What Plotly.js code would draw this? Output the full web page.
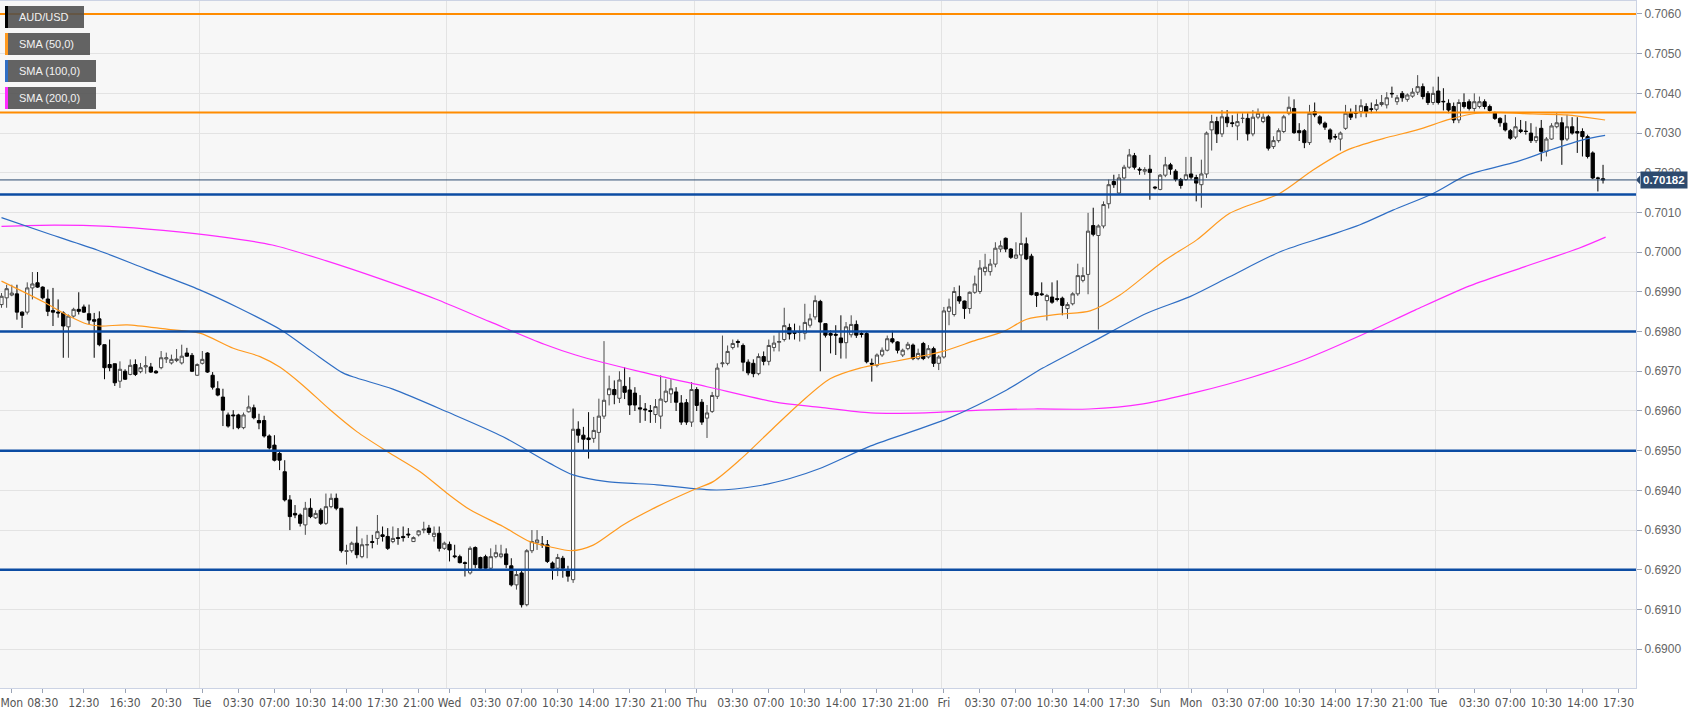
<!DOCTYPE html>
<html><head><meta charset="utf-8">
<script src="https://cdn.plot.ly/plotly-3.0.1.min.js"></script>
<style>html,body{margin:0;padding:0;background:#fff;}#chart{width:1707px;height:712px;}</style>
</head><body><div id="chart"></div>
<script>
// ---- data (30-min candles, AUD/USD) ----
const opens = [0.69868,0.69885,0.69892,0.69895,0.69849,0.69849,0.69910,0.69923,0.69912,0.69882,0.69853,0.69849,0.69847,0.69812,0.69839,0.69856,0.69862,0.69845,0.69830,0.69832,0.69767,0.69717,0.69719,0.69675,0.69700,0.69692,0.69717,0.69699,0.69711,0.69711,0.69700,0.69709,0.69731,0.69721,0.69727,0.69721,0.69746,0.69740,0.69690,0.69720,0.69746,0.69690,0.69656,0.69635,0.69590,0.69590,0.69590,0.69558,0.69598,0.69608,0.69576,0.69576,0.69537,0.69514,0.69493,0.69447,0.69376,0.69342,0.69338,0.69313,0.69355,0.69331,0.69350,0.69317,0.69359,0.69380,0.69355,0.69246,0.69248,0.69267,0.69233,0.69263,0.69271,0.69279,0.69288,0.69284,0.69271,0.69281,0.69284,0.69290,0.69271,0.69288,0.69300,0.69305,0.69284,0.69292,0.69254,0.69264,0.69235,0.69233,0.69218,0.69192,0.69256,0.69231,0.69233,0.69204,0.69233,0.69233,0.69240,0.69210,0.69162,0.69192,0.69112,0.69248,0.69268,0.69265,0.69263,0.69217,0.69204,0.69229,0.69200,0.69175,0.69554,0.69539,0.69532,0.69531,0.69546,0.69587,0.69641,0.69654,0.69632,0.69662,0.69653,0.69645,0.69608,0.69605,0.69601,0.69591,0.69587,0.69624,0.69643,0.69648,0.69620,0.69621,0.69572,0.69654,0.69622,0.69582,0.69599,0.69637,0.69719,0.69720,0.69760,0.69775,0.69765,0.69723,0.69720,0.69694,0.69737,0.69725,0.69760,0.69773,0.69780,0.69810,0.69798,0.69798,0.69796,0.69816,0.69837,0.69876,0.69820,0.69795,0.69793,0.69784,0.69772,0.69792,0.69818,0.69795,0.69795,0.69720,0.69715,0.69741,0.69753,0.69782,0.69774,0.69741,0.69757,0.69766,0.69732,0.69770,0.69736,0.69757,0.69720,0.69736,0.69851,0.69843,0.69888,0.69877,0.69858,0.69899,0.69901,0.69951,0.69951,0.69970,0.70008,0.70035,0.70008,0.69985,0.69993,0.70021,0.69990,0.69898,0.69895,0.69878,0.69887,0.69883,0.69884,0.69858,0.69870,0.69895,0.69929,0.69944,0.70067,0.70042,0.70066,0.70122,0.70178,0.70149,0.70187,0.70214,0.70243,0.70209,0.70204,0.70209,0.70164,0.70158,0.70194,0.70220,0.70204,0.70183,0.70183,0.70197,0.70188,0.70170,0.70197,0.70308,0.70329,0.70298,0.70340,0.70326,0.70318,0.70337,0.70337,0.70298,0.70340,0.70329,0.70341,0.70266,0.70281,0.70304,0.70350,0.70362,0.70306,0.70306,0.70276,0.70354,0.70341,0.70325,0.70308,0.70291,0.70285,0.70312,0.70350,0.70352,0.70354,0.70367,0.70361,0.70360,0.70372,0.70371,0.70400,0.70379,0.70400,0.70385,0.70393,0.70403,0.70417,0.70400,0.70377,0.70406,0.70380,0.70375,0.70367,0.70333,0.70377,0.70379,0.70362,0.70367,0.70379,0.70367,0.70350,0.70337,0.70325,0.70306,0.70290,0.70308,0.70305,0.70300,0.70281,0.70312,0.70254,0.70285,0.70316,0.70326,0.70285,0.70316,0.70304,0.70304,0.70291,0.70250,0.70187,0.70185];
const highs = [0.69897,0.69918,0.69918,0.69918,0.69851,0.69924,0.69950,0.69950,0.69914,0.69906,0.69910,0.69881,0.69851,0.69843,0.69860,0.69899,0.69868,0.69868,0.69847,0.69851,0.69767,0.69780,0.69719,0.69725,0.69705,0.69730,0.69730,0.69721,0.69738,0.69721,0.69703,0.69751,0.69747,0.69742,0.69756,0.69767,0.69759,0.69746,0.69720,0.69751,0.69748,0.69698,0.69675,0.69656,0.69596,0.69602,0.69593,0.69596,0.69639,0.69616,0.69593,0.69588,0.69541,0.69539,0.69497,0.69476,0.69388,0.69363,0.69342,0.69371,0.69380,0.69350,0.69355,0.69392,0.69392,0.69392,0.69355,0.69263,0.69271,0.69309,0.69279,0.69288,0.69288,0.69338,0.69309,0.69305,0.69309,0.69305,0.69309,0.69305,0.69284,0.69300,0.69321,0.69313,0.69309,0.69309,0.69271,0.69271,0.69263,0.69238,0.69221,0.69259,0.69259,0.69233,0.69238,0.69254,0.69263,0.69263,0.69254,0.69229,0.69200,0.69198,0.69252,0.69300,0.69300,0.69285,0.69275,0.69221,0.69240,0.69235,0.69210,0.69606,0.69574,0.69560,0.69597,0.69585,0.69631,0.69776,0.69689,0.69677,0.69700,0.69710,0.69685,0.69660,0.69640,0.69620,0.69615,0.69630,0.69690,0.69680,0.69680,0.69660,0.69640,0.69630,0.69673,0.69660,0.69630,0.69615,0.69648,0.69720,0.69790,0.69765,0.69780,0.69780,0.69770,0.69730,0.69730,0.69745,0.69750,0.69780,0.69790,0.69800,0.69860,0.69820,0.69820,0.69815,0.69870,0.69845,0.69891,0.69880,0.69820,0.69803,0.69816,0.69841,0.69824,0.69841,0.69828,0.69802,0.69800,0.69732,0.69745,0.69760,0.69790,0.69802,0.69776,0.69757,0.69774,0.69770,0.69757,0.69774,0.69766,0.69762,0.69741,0.69862,0.69883,0.69912,0.69916,0.69878,0.69901,0.69941,0.69980,0.69996,0.69983,0.70025,0.70029,0.70037,0.70010,0.70025,0.70100,0.70037,0.69996,0.69898,0.69924,0.69895,0.69924,0.69929,0.69888,0.69874,0.69899,0.69971,0.69962,0.70099,0.70112,0.70070,0.70128,0.70183,0.70195,0.70197,0.70220,0.70260,0.70250,0.70214,0.70214,0.70245,0.70166,0.70197,0.70240,0.70225,0.70209,0.70187,0.70240,0.70240,0.70195,0.70233,0.70304,0.70346,0.70341,0.70358,0.70358,0.70345,0.70350,0.70350,0.70350,0.70358,0.70362,0.70350,0.70346,0.70292,0.70312,0.70346,0.70392,0.70385,0.70325,0.70310,0.70371,0.70377,0.70345,0.70329,0.70312,0.70298,0.70304,0.70371,0.70362,0.70371,0.70385,0.70375,0.70377,0.70385,0.70396,0.70403,0.70417,0.70396,0.70406,0.70400,0.70413,0.70446,0.70425,0.70406,0.70417,0.70442,0.70413,0.70385,0.70377,0.70385,0.70400,0.70385,0.70400,0.70392,0.70385,0.70372,0.70354,0.70340,0.70346,0.70310,0.70340,0.70333,0.70330,0.70325,0.70316,0.70333,0.70290,0.70325,0.70350,0.70340,0.70346,0.70340,0.70340,0.70312,0.70296,0.70254,0.70190,0.70220];
const lows = [0.69860,0.69860,0.69889,0.69830,0.69809,0.69843,0.69881,0.69910,0.69881,0.69839,0.69814,0.69835,0.69734,0.69734,0.69835,0.69843,0.69847,0.69818,0.69734,0.69763,0.69680,0.69700,0.69663,0.69658,0.69678,0.69690,0.69688,0.69695,0.69694,0.69696,0.69694,0.69705,0.69721,0.69717,0.69723,0.69717,0.69736,0.69698,0.69688,0.69717,0.69696,0.69654,0.69637,0.69562,0.69558,0.69554,0.69554,0.69554,0.69596,0.69579,0.69554,0.69533,0.69503,0.69473,0.69451,0.69372,0.69300,0.69330,0.69309,0.69288,0.69330,0.69328,0.69313,0.69313,0.69355,0.69350,0.69243,0.69213,0.69243,0.69229,0.69229,0.69229,0.69254,0.69263,0.69271,0.69250,0.69267,0.69263,0.69271,0.69280,0.69270,0.69284,0.69292,0.69288,0.69271,0.69246,0.69250,0.69221,0.69229,0.69216,0.69183,0.69188,0.69204,0.69200,0.69200,0.69200,0.69229,0.69229,0.69204,0.69158,0.69150,0.69105,0.69108,0.69242,0.69250,0.69255,0.69217,0.69175,0.69184,0.69180,0.69170,0.69167,0.69520,0.69500,0.69480,0.69520,0.69501,0.69580,0.69614,0.69617,0.69620,0.69630,0.69590,0.69600,0.69570,0.69575,0.69570,0.69570,0.69555,0.69620,0.69620,0.69600,0.69565,0.69565,0.69560,0.69600,0.69565,0.69532,0.69595,0.69630,0.69710,0.69715,0.69755,0.69760,0.69700,0.69690,0.69685,0.69690,0.69715,0.69715,0.69750,0.69750,0.69775,0.69780,0.69780,0.69775,0.69780,0.69810,0.69830,0.69700,0.69785,0.69745,0.69741,0.69732,0.69732,0.69785,0.69784,0.69785,0.69720,0.69674,0.69710,0.69736,0.69750,0.69770,0.69745,0.69736,0.69753,0.69728,0.69728,0.69728,0.69732,0.69711,0.69703,0.69732,0.69816,0.69838,0.69870,0.69832,0.69845,0.69895,0.69895,0.69941,0.69941,0.69962,0.70000,0.70000,0.69983,0.69983,0.69803,0.69980,0.69891,0.69862,0.69890,0.69828,0.69870,0.69876,0.69841,0.69832,0.69866,0.69890,0.69924,0.69894,0.70040,0.69805,0.70060,0.70110,0.70162,0.70145,0.70183,0.70210,0.70208,0.70195,0.70195,0.70132,0.70158,0.70156,0.70189,0.70195,0.70178,0.70160,0.70180,0.70183,0.70128,0.70112,0.70187,0.70256,0.70275,0.70290,0.70315,0.70315,0.70282,0.70325,0.70281,0.70292,0.70335,0.70325,0.70256,0.70260,0.70276,0.70300,0.70345,0.70298,0.70280,0.70262,0.70270,0.70340,0.70320,0.70308,0.70276,0.70283,0.70256,0.70308,0.70333,0.70337,0.70340,0.70340,0.70350,0.70354,0.70367,0.70362,0.70389,0.70371,0.70379,0.70379,0.70389,0.70396,0.70385,0.70371,0.70371,0.70372,0.70357,0.70350,0.70325,0.70325,0.70362,0.70357,0.70354,0.70362,0.70360,0.70354,0.70333,0.70316,0.70304,0.70283,0.70285,0.70300,0.70296,0.70275,0.70275,0.70229,0.70241,0.70283,0.70312,0.70220,0.70280,0.70296,0.70250,0.70241,0.70236,0.70184,0.70153,0.70173];
const closes = [0.69889,0.69908,0.69897,0.69849,0.69841,0.69910,0.69920,0.69912,0.69885,0.69851,0.69849,0.69847,0.69814,0.69839,0.69856,0.69851,0.69849,0.69829,0.69826,0.69767,0.69709,0.69709,0.69671,0.69705,0.69680,0.69715,0.69692,0.69709,0.69714,0.69698,0.69696,0.69734,0.69734,0.69730,0.69731,0.69738,0.69738,0.69700,0.69717,0.69730,0.69698,0.69660,0.69640,0.69602,0.69562,0.69588,0.69558,0.69590,0.69610,0.69583,0.69570,0.69537,0.69507,0.69476,0.69476,0.69376,0.69334,0.69338,0.69317,0.69355,0.69334,0.69342,0.69317,0.69359,0.69380,0.69355,0.69248,0.69248,0.69267,0.69238,0.69263,0.69263,0.69269,0.69296,0.69284,0.69254,0.69279,0.69279,0.69281,0.69288,0.69281,0.69298,0.69302,0.69294,0.69292,0.69254,0.69267,0.69250,0.69233,0.69218,0.69216,0.69254,0.69213,0.69204,0.69204,0.69233,0.69243,0.69240,0.69213,0.69162,0.69188,0.69112,0.69248,0.69271,0.69275,0.69263,0.69221,0.69204,0.69231,0.69204,0.69184,0.69554,0.69539,0.69529,0.69528,0.69551,0.69587,0.69627,0.69656,0.69641,0.69678,0.69647,0.69615,0.69615,0.69605,0.69603,0.69599,0.69611,0.69630,0.69650,0.69656,0.69622,0.69572,0.69572,0.69654,0.69614,0.69572,0.69595,0.69639,0.69708,0.69721,0.69750,0.69770,0.69773,0.69723,0.69696,0.69694,0.69737,0.69725,0.69765,0.69771,0.69775,0.69815,0.69794,0.69796,0.69798,0.69823,0.69832,0.69878,0.69824,0.69791,0.69791,0.69791,0.69772,0.69812,0.69818,0.69791,0.69793,0.69724,0.69718,0.69741,0.69753,0.69782,0.69774,0.69753,0.69753,0.69768,0.69732,0.69745,0.69732,0.69757,0.69720,0.69736,0.69852,0.69862,0.69901,0.69877,0.69858,0.69899,0.69920,0.69960,0.69962,0.69970,0.70010,0.70016,0.70008,0.69987,0.69993,0.70022,0.69983,0.69893,0.69891,0.69893,0.69891,0.69874,0.69881,0.69866,0.69868,0.69895,0.69941,0.69941,0.70053,0.70045,0.70066,0.70120,0.70170,0.70170,0.70187,0.70214,0.70245,0.70214,0.70207,0.70208,0.70201,0.70162,0.70194,0.70220,0.70209,0.70183,0.70168,0.70195,0.70189,0.70174,0.70197,0.70300,0.70329,0.70298,0.70341,0.70326,0.70324,0.70329,0.70337,0.70298,0.70340,0.70350,0.70340,0.70262,0.70281,0.70306,0.70341,0.70365,0.70301,0.70301,0.70276,0.70350,0.70346,0.70325,0.70315,0.70285,0.70290,0.70300,0.70350,0.70340,0.70350,0.70369,0.70354,0.70360,0.70372,0.70377,0.70389,0.70399,0.70389,0.70389,0.70396,0.70403,0.70417,0.70392,0.70377,0.70400,0.70377,0.70379,0.70358,0.70333,0.70377,0.70367,0.70362,0.70379,0.70379,0.70367,0.70357,0.70337,0.70326,0.70308,0.70287,0.70316,0.70304,0.70304,0.70281,0.70291,0.70254,0.70285,0.70318,0.70326,0.70283,0.70316,0.70300,0.70300,0.70291,0.70241,0.70187,0.70186,0.70182];

// moving averages at candle positions
const sma50Idx = [0,8.1,12.7,16.6,19.1,24.4,32.1,38.5,45,50.2,54.1,58.5,63.8,69,74.9,81.3,86.5,91,97.4,102.6,106.5,110.7,114.9,120.7,127.3,134.3,138.2,143.4,149.8,155,160.9,166.7,173.1,179.7,182.8,189.4,194.5,199.1,205.5,211.4,217.2,225.5,232.1,238.5,248.2,254.7,261.3,268.3,274.9,281.3,286.5,291,297.4,304,307.1,311.4];
const sma50Val = [0.69927,0.69875,0.69842,0.69819,0.69814,0.69817,0.69806,0.69796,0.69758,0.69737,0.69710,0.69665,0.69603,0.69548,0.69498,0.69447,0.69393,0.69351,0.69309,0.69271,0.69258,0.69248,0.69262,0.69313,0.69359,0.69401,0.69422,0.69477,0.69556,0.69619,0.69681,0.69708,0.69724,0.69741,0.69750,0.69779,0.69800,0.69831,0.69844,0.69852,0.69892,0.69976,0.70031,0.70098,0.70148,0.70207,0.70257,0.70286,0.70308,0.70335,0.70350,0.70352,0.70348,0.70346,0.70341,0.70333];
const sma100Idx = [0,9,18.7,28,38.5,46,54.3,60,66.3,69,76,86.5,97.4,106.5,111,117.6,127.3,138.9,146.7,153.1,158.9,168.8,183.6,195.2,202.2,211.4,222.4,230.8,238.5,248.3,258,263.8,270.2,278,284.6,294.3,300.7,307.1,311.4];
const sma100Val = [0.70087,0.70047,0.70005,0.69958,0.69905,0.69860,0.69804,0.69752,0.69696,0.69683,0.69655,0.69598,0.69535,0.69468,0.69439,0.69422,0.69414,0.69401,0.69411,0.69430,0.69455,0.69512,0.69580,0.69653,0.69708,0.69771,0.69846,0.69888,0.69938,0.70001,0.70043,0.70069,0.70106,0.70148,0.70194,0.70228,0.70257,0.70283,0.70294];
const sma200Idx = [0,10.3,20.9,31.4,42,52.6,63.1,73.7,84.3,94.8,105.4,111.5,124,137,150,159,168.8,179.4,190,200.5,211.2,221.7,232.3,242.8,253.3,263.9,274.5,285.1,295.7,306.3,311.5];
const sma200Val = [0.70065,0.70068,0.70065,0.70055,0.70040,0.70018,0.69978,0.69932,0.69882,0.69825,0.69768,0.69741,0.69699,0.69661,0.69623,0.69609,0.69595,0.69595,0.69602,0.69605,0.69605,0.69618,0.69648,0.69685,0.69731,0.69790,0.69854,0.69915,0.69963,0.70010,0.70038];

// axis labels (placed at candle positions)
const tickIdx = [2,8,16,24,32,39,46,53,60,67,74,81,87,94,101,108,115,122,129,135,142,149,156,163,170,177,183,190,197,204,211,218,225,231,238,245,252,259,266,273,279,286,293,300,307,314];
const tickLabels = ['Mon','08:30','12:30','16:30','20:30','Tue','03:30','07:00','10:30','14:00','17:30','21:00','Wed','03:30','07:00','10:30','14:00','17:30','21:00','Thu','03:30','07:00','10:30','14:00','17:30','21:00','Fri','03:30','07:00','10:30','14:00','17:30','Sun','Mon','03:30','07:00','10:30','14:00','17:30','21:00','Tue','03:30','07:00','10:30','14:00','17:30'];
const dayBreaks = [38.5,86.5,134.5,182.5,224.5,230.5,278.5];

// horizontal levels
const resistanceLevels = [0.7060, 0.70352];
const supportLevels = [0.70145, 0.6980, 0.6950, 0.6920];
const lastPrice = 0.70182;
const legendNames = ['AUD/USD','SMA (50,0)','SMA (100,0)','SMA (200,0)'];

// ---- drawing ----
const N = opens.length;
const xs = Array.from({length:N}, (_, i) => i);
const H = highs.map((h,i)=>Math.max(h,opens[i],closes[i]));
const L = lows.map((l,i)=>Math.min(l,opens[i],closes[i]));

const C50 = '#ff9a1f', C100 = '#2f6ec4', C200 = '#ff2bff';
const LEVEL_OR = '#ff8c00', LEVEL_BL = '#0c4ca3';
const TAG = '#2d4a6e';
const legendColors = ['#000000', C50, C100, C200];

const traces = [
  {type:'scatter', mode:'lines', x:sma200Idx, y:sma200Val, line:{color:C200, width:1.2, shape:'spline', smoothing:0.8}, hoverinfo:'skip'},
  {type:'scatter', mode:'lines', x:sma100Idx, y:sma100Val, line:{color:C100, width:1.2, shape:'spline', smoothing:0.8}, hoverinfo:'skip'},
  {type:'scatter', mode:'lines', x:sma50Idx, y:sma50Val, line:{color:C50, width:1.2, shape:'spline', smoothing:0.8}, hoverinfo:'skip'},
  {type:'candlestick', x:xs, open:opens, high:H, low:L, close:closes,
   increasing:{line:{color:'#4a4a4a', width:1}, fillcolor:'#ffffff'},
   decreasing:{line:{color:'#000000', width:1}, fillcolor:'#000000'},
   whiskerwidth:0, hoverinfo:'skip'},
  {type:'scatter', mode:'lines', x:[0,1], y:[lastPrice,lastPrice], xaxis:'x2', yaxis:'y', line:{width:0}, hoverinfo:'skip', showlegend:false}
];

const plotW = 1636, plotH = 687;
const px = v => v/plotW, py = v => 1 - v/plotH;

const shapes = [];
resistanceLevels.forEach(v => shapes.push({type:'line', xref:'paper', yref:'y', x0:0, x1:1, y0:v, y1:v, line:{color:LEVEL_OR, width:2}, layer:'above'}));
supportLevels.forEach(v => shapes.push({type:'line', xref:'paper', yref:'y', x0:0, x1:1, y0:v, y1:v, line:{color:LEVEL_BL, width:2.5}, layer:'above'}));
shapes.push({type:'line', xref:'paper', yref:'y', x0:0, x1:1, y0:lastPrice, y1:lastPrice, line:{color:'#2b4a70', width:1}, layer:'above'});
// small notch on the price tag
const tagHalf = 0.00011;
shapes.push({type:'path', xref:'paper', yref:'y', layer:'above', fillcolor:TAG, line:{width:0},
  path:`M ${px(1636)} ${lastPrice} L ${px(1640)} ${lastPrice+tagHalf} L ${px(1640)} ${lastPrice-tagHalf} Z`});

const annotations = [];
const boxW = [79, 85, 91, 91];
legendNames.forEach((name, k) => {
  const top = 5 + k*27, bot = top + 22;
  shapes.push({type:'rect', xref:'paper', yref:'paper', x0:px(5), x1:px(5+boxW[k]), y0:py(bot), y1:py(top), fillcolor:'rgba(78,78,78,0.88)', line:{width:0}, layer:'above'});
  shapes.push({type:'rect', xref:'paper', yref:'paper', x0:px(5), x1:px(8), y0:py(bot), y1:py(top), fillcolor:legendColors[k], line:{width:0}, layer:'above'});
  annotations.push({xref:'paper', yref:'paper', x:px(17), y:py(top+11), xanchor:'left', yanchor:'middle', showarrow:false, text:name, font:{family:'Liberation Sans, Arial, sans-serif', size:11, color:'#f2f2f2'}});
});
// last price tag
annotations.push({xref:'paper', yref:'y', x:1, y:lastPrice, xanchor:'left', yanchor:'middle', xshift:4, showarrow:false, text:'<b>' + lastPrice.toFixed(5) + '</b>', bgcolor:TAG, borderpad:2, font:{family:'Liberation Sans, Arial, sans-serif', size:11.5, color:'#ffffff'}});

const layout = {
  width:1707, height:712,
  margin:{l:0, r:71, t:1, b:24, pad:0},
  paper_bgcolor:'#ffffff', plot_bgcolor:'#f7f7f7',
  showlegend:false,
  boxgap:0.1,
  xaxis:{range:[-0.29, 317.4], tickmode:'array', tickvals:tickIdx, ticktext:tickLabels, showgrid:false, zeroline:false,
         ticks:'outside', ticklen:4, tickcolor:'#9aa3b5', showline:true, mirror:true, linecolor:'#ccd3e4', linewidth:1,
         tickfont:{family:'Liberation Sans Narrow, Arial Narrow, DejaVu Sans Condensed, sans-serif', size:12, color:'#555'},
         rangeslider:{visible:false}, fixedrange:true},
  xaxis2:{overlaying:'x', range:[-0.29, 317.4], tickmode:'array', tickvals:dayBreaks, showticklabels:false, showgrid:true,
          gridcolor:'#e3e3e3', gridwidth:1, zeroline:false, ticks:'', matches:'x'},
  yaxis:{range:[0.689022, 0.706327], side:'right', tick0:0.69, dtick:0.001, tickformat:'.4f', showgrid:true, gridcolor:'#e3e3e3',
         zeroline:false, ticks:'outside', ticklen:5, tickcolor:'#9aa3b5', showline:true, mirror:true, linecolor:'#ccd3e4',
         tickfont:{family:'Liberation Sans, Arial, sans-serif', size:12, color:'#666'}, fixedrange:true},
  shapes, annotations
};

Plotly.newPlot('chart', traces, layout, {staticPlot:true, displayModeBar:false});
</script></body></html>
